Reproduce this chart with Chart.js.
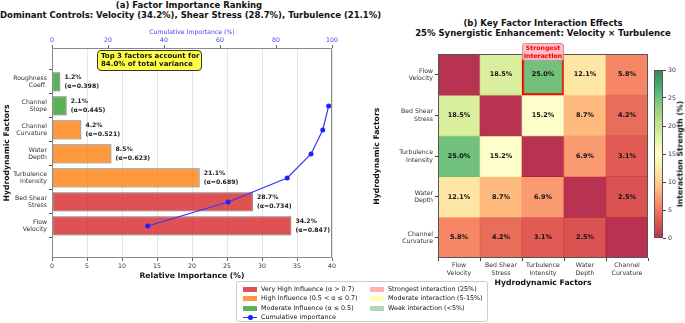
<!DOCTYPE html>
<html lang="en">

<head>
    <meta charset="UTF-8">
    <script src="https://cdn.jsdelivr.net/npm/chart.js@4.4.0/dist/chart.umd.min.js"></script>
    <title>Factor Importance and Interactions</title>
    <style>
        body { margin: 0; background: #fff; }
        #wrap { position: relative; width: 685px; height: 323px; overflow: hidden; font-family: 'DejaVu Sans', sans-serif; color: #111; }
        #wrap canvas, .txt { position: absolute; }
        .title { font-weight: bold; font-size: 8.5px; line-height: 10px; text-align: center; white-space: nowrap; }
        #note { left: 97px; top: 50px; width: 97px; padding: 1px 3px; background: rgba(255, 255, 0, 0.72); border: 1px solid #333;
            border-radius: 4px; font-weight: bold; font-size: 7px; line-height: 8.4px; white-space: nowrap; }
        #strong { left: 522px; top: 43px; width: 40px; height: 16px; background: rgba(255, 182, 193, 0.9); border: 1px solid #b99;
            border-radius: 3px; color: #f00; font-weight: bold; font-size: 6.2px; line-height: 7.6px; text-align: center; }
        #cbLabel { left: 680px; top: 154px; transform: translate(-50%, -50%) rotate(-90deg); font-weight: bold; font-size: 7.7px; white-space: nowrap; }
        #legend { left: 236px; top: 281px; width: 250px; height: 39px; border: 1px solid #ccc; border-radius: 3px; background: rgba(255,255,255,0.85); }
        .lg { position: absolute; font-size: 6.4px; line-height: 9px; white-space: nowrap; }
        .sw { position: absolute; width: 14px; height: 5px; }
    </style>
</head>

<body>
    <div id="wrap">
        <div class="txt title" style="left:0;top:0;width:378px">(a) Factor Importance Ranking<br><span id="subA"></span></div>
        <div class="txt title" style="left:393px;top:18px;width:300px">(b) Key Factor Interaction Effects<br>25% Synergistic Enhancement: Velocity × Turbulence</div>
        <canvas id="importance" width="345" height="261" style="left:0;top:24px"></canvas>
        <canvas id="heat" width="280" height="247" style="left:370px;top:45px"></canvas>
        <canvas id="cbar" width="37" height="190" style="left:648px;top:60px"></canvas>
        <div id="note" class="txt"></div>
        <div id="strong" class="txt">Strongest<br>Interaction</div>
        <div id="cbLabel" class="txt">Interaction Strength (%)</div>
        <div id="legend" class="txt"></div>
    </div>

    <script>
        // panel (a): ranking, strongest first
        const factors = ['Flow Velocity', 'Bed Shear Stress', 'Turbulence Intensity', 'Water Depth',
            'Channel Curvature', 'Channel Slope', 'Roughness Coeff.']
        const importance = [34.2, 28.7, 21.1, 8.5, 4.2, 2.1, 1.2]
        const alphaIdx = [0.847, 0.734, 0.689, 0.623, 0.521, 0.445, 0.398]
        const cumulative = [34.2, 62.9, 84.0, 92.5, 96.7, 98.8]

        // panel (b): pairwise interaction strength (%)
        const pairFactors = ['Flow Velocity', 'Bed Shear Stress', 'Turbulence Intensity', 'Water Depth', 'Channel Curvature']
        const rowVelocity = [0, 18.5, 25.0, 12.1, 5.8]
        const rowShear = [18.5, 0, 15.2, 8.7, 4.2]
        const rowTurbulence = [25.0, 15.2, 0, 6.9, 3.1]
        const rowDepth = [12.1, 8.7, 6.9, 0, 2.5]
        const rowCurvature = [5.8, 4.2, 3.1, 2.5, 0]
        const interaction = [rowVelocity, rowShear, rowTurbulence, rowDepth, rowCurvature]
        const strongest = { row: 0, col: 2 }
        const colorMax = 30

        const RED = 'rgba(214,39,40,0.8)', ORANGE = 'rgba(255,127,14,0.8)', GREEN = 'rgba(44,160,44,0.8)'
        const BLUE = '#3535ff'
        Chart.defaults.font.family = "'DejaVu Sans', sans-serif"
        Chart.defaults.color = '#333'

        const influenceColor = (a) => a > 0.7 ? RED : (a > 0.5 ? ORANGE : GREEN)

        const twoLines = (s) => {
            const i = s.lastIndexOf(' ')
            return i < 0 ? s : [s.slice(0, i), s.slice(i + 1)]
        }

        // matplotlib RdYlGn
        const rdylgn = ['#a50026', '#d73027', '#f46d43', '#fdae61', '#fee08b', '#ffffbf',
            '#d9ef8b', '#a6d96a', '#66bd63', '#1a9850', '#006837']
        const hex = (h) => [1, 3, 5].map(k => parseInt(h.slice(k, k + 2), 16))
        const cmap = (t, a) => {
            t = Math.max(0, Math.min(1, t)) * (rdylgn.length - 1)
            const i = Math.min(Math.floor(t), rdylgn.length - 2)
            const f = t - i
            const c0 = hex(rdylgn[i]), c1 = hex(rdylgn[i + 1])
            const c = c0.map((v, k) => Math.round(v + (c1[k] - v) * f))
            return `rgba(${c[0]},${c[1]},${c[2]},${a})`
        }

        const framePlugin = {
            id: 'frame',
            afterDraw(chart, args, opts) {
                const { ctx, chartArea: a } = chart
                ctx.save()
                ctx.strokeStyle = opts.color || '#444'
                ctx.lineWidth = 1
                ctx.strokeRect(Math.round(a.left) + 0.5, Math.round(a.top) + 0.5,
                    Math.round(a.right - a.left) - 1, Math.round(a.bottom - a.top) - 1)
                ctx.restore()
            }
        }

        const tickFont = { size: 6.2 }
        const axisTitle = (text) => ({ display: true, text: text, color: '#111', font: { size: 7.7, weight: 'bold' } })

        // ---------- (a) importance bars + cumulative line ----------
        const barLabels = {
            id: 'barLabels',
            afterDatasetsDraw(chart) {
                const ctx = chart.ctx
                const meta = chart.getDatasetMeta(0)
                ctx.save()
                ctx.font = "bold 6.2px 'DejaVu Sans'"
                ctx.fillStyle = '#222'
                ctx.textBaseline = 'middle'
                meta.data.forEach((bar, i) => {
                    ctx.fillText(importance[i].toFixed(1) + '%', bar.x + 4, bar.y - 4.3)
                    ctx.fillText('(α=' + alphaIdx[i].toFixed(3) + ')', bar.x + 4, bar.y + 4.3)
                })
                ctx.restore()
            }
        }

        new Chart(document.getElementById('importance'), {
            type: 'bar',
            data: {
                datasets: [{
                    type: 'bar',
                    data: importance.map((v, i) => ({ x: v, y: i })),
                    backgroundColor: alphaIdx.map(influenceColor),
                    borderColor: 'rgba(0,0,0,0.55)',
                    borderWidth: 1,
                    borderSkipped: false,
                    barPercentage: 0.8,
                    categoryPercentage: 1,
                    xAxisID: 'x',
                    order: 2
                }, {
                    type: 'line',
                    indexAxis: 'y',
                    data: cumulative.map((v, i) => ({ x: v, y: i })),
                    xAxisID: 'x2',
                    borderColor: BLUE,
                    borderWidth: 1.2,
                    pointRadius: 2.5,
                    pointBackgroundColor: '#1f1fff',
                    pointBorderWidth: 0,
                    order: 1
                }]
            },
            options: {
                indexAxis: 'y',
                responsive: false,
                animation: false,
                layout: { padding: { right: 13 } },
                plugins: { legend: { display: false }, tooltip: { enabled: false }, frame: { color: '#8a8a8a' } },
                scales: {
                    x: {
                        type: 'linear', position: 'bottom', min: 0, max: 40,
                        ticks: { stepSize: 5, font: tickFont, padding: 2 },
                        grid: { color: 'rgba(0,0,0,0.1)', tickColor: '#666', tickLength: 3 },
                        border: { display: false },
                        title: { ...axisTitle('Relative Importance (%)'), padding: { top: 0, bottom: 4 } },
                        afterFit: (s) => { s.height = 27 }
                    },
                    x2: {
                        type: 'linear', position: 'top', min: 0, max: 100,
                        ticks: { stepSize: 20, font: tickFont, padding: 1, color: '#4040ff' },
                        grid: { drawOnChartArea: false, tickColor: '#666', tickLength: 3 },
                        border: { display: false },
                        title: { display: true, text: 'Cumulative Importance (%)', color: '#4040ff', font: { size: 6.2 }, padding: { top: 5, bottom: 0 } },
                        afterFit: (s) => { s.height = 24 }
                    },
                    y: {
                        type: 'linear', min: -0.71, max: 6.79,
                        afterBuildTicks: (s) => { s.ticks = factors.map((f, i) => ({ value: i })) },
                        ticks: { autoSkip: false, font: { size: 6.2, lineHeight: 1.25 }, padding: 2, callback: (v) => twoLines(factors[v]) },
                        grid: { drawOnChartArea: false, tickColor: '#666', tickLength: 3 },
                        border: { display: false },
                        title: { ...axisTitle('Hydrodynamic Factors'), padding: { top: 2, bottom: 0 } },
                        afterFit: (s) => { s.width = 52 }
                    }
                }
            },
            plugins: [barLabels, framePlugin]
        })

        // ---------- (b) interaction heatmap ----------
        const cellLabels = {
            id: 'cellLabels',
            afterDatasetsDraw(chart) {
                const ctx = chart.ctx
                ctx.save()
                ctx.font = "bold 6.5px 'DejaVu Sans'"
                ctx.fillStyle = '#111'
                ctx.textAlign = 'center'
                ctx.textBaseline = 'middle'
                interaction.forEach((row, r) => {
                    const meta = chart.getDatasetMeta(r)
                    row.forEach((v, j) => {
                        if (v <= 0) return
                        const cell = meta.data[j]
                        ctx.fillText(v.toFixed(1) + '%', cell.x, (cell.y + cell.base) / 2)
                    })
                })
                ctx.restore()
            }
        }

        new Chart(document.getElementById('heat'), {
            type: 'bar',
            data: {
                labels: pairFactors.map(twoLines),
                datasets: interaction.map((row, r) => ({
                    data: row.map(() => [r - 0.5, r + 0.5]),
                    backgroundColor: row.map(v => cmap(v / colorMax, 0.8)),
                    borderColor: '#ff0000',
                    borderWidth: row.map((v, j) => (r === strongest.row && j === strongest.col) ? 2 : 0),
                    borderSkipped: false,
                    barPercentage: 1,
                    categoryPercentage: 1,
                    grouped: false
                }))
            },
            options: {
                responsive: false,
                animation: false,
                layout: { padding: { top: 4, right: 2 } },
                plugins: { legend: { display: false }, tooltip: { enabled: false }, frame: { color: '#555' } },
                scales: {
                    x: {
                        ticks: { font: { size: 6.2, lineHeight: 1.2 }, padding: 1, maxRotation: 0, autoSkip: false },
                        grid: { drawOnChartArea: false, tickColor: '#444', tickLength: 3 },
                        border: { display: false },
                        title: { ...axisTitle('Hydrodynamic Factors'), padding: { top: 0, bottom: 4 } },
                        afterFit: (s) => { s.height = 34 }
                    },
                    y: {
                        type: 'linear', min: -0.5, max: 4.5, reverse: true,
                        afterBuildTicks: (s) => { s.ticks = pairFactors.map((f, i) => ({ value: i })) },
                        ticks: { autoSkip: false, font: { size: 6.2, lineHeight: 1.2 }, padding: 2, callback: (v) => twoLines(pairFactors[v]) },
                        grid: { drawOnChartArea: false, tickColor: '#444', tickLength: 3 },
                        border: { display: false },
                        title: { ...axisTitle('Hydrodynamic Factors'), padding: { top: 2, bottom: 0 } },
                        afterFit: (s) => { s.width = 68 }
                    }
                }
            },
            plugins: [cellLabels, framePlugin]
        })

        // ---------- colorbar ----------
        const cbarFill = (context) => {
            const area = context.chart.chartArea
            if (!area) return cmap(0.5, 0.8)
            const g = context.chart.ctx.createLinearGradient(0, area.bottom, 0, area.top)
            rdylgn.forEach((c, i) => g.addColorStop(i / (rdylgn.length - 1), cmap(i / (rdylgn.length - 1), 0.8)))
            return g
        }

        new Chart(document.getElementById('cbar'), {
            type: 'bar',
            data: { labels: [''], datasets: [{ data: [[0, colorMax]], backgroundColor: cbarFill, borderWidth: 0, barPercentage: 1, categoryPercentage: 1 }] },
            options: {
                responsive: false,
                animation: false,
                layout: { padding: { left: 6, top: 10, bottom: 12 } },
                plugins: { legend: { display: false }, tooltip: { enabled: false }, frame: { color: '#555' } },
                scales: {
                    x: { display: false },
                    y: {
                        position: 'right', min: 0, max: colorMax,
                        ticks: { stepSize: 5, font: tickFont, padding: 2 },
                        grid: { drawOnChartArea: false, tickColor: '#444', tickLength: 3 },
                        border: { display: false },
                        afterFit: (s) => { s.width = 22 }
                    }
                }
            },
            plugins: [framePlugin]
        })

        // ---------- html text ----------
        document.getElementById('subA').textContent =
            `Dominant Controls: Velocity (${importance[0]}%), Shear Stress (${importance[1]}%), Turbulence (${importance[2]}%)`
        const top3 = importance.slice(0, 3).reduce((a, b) => a + b, 0)
        document.getElementById('note').innerHTML = `Top 3 factors account for<br>${top3.toFixed(1)}% of total variance`

        const legendLeft = [
            [RED, 'Very High Influence (α > 0.7)'],
            [ORANGE, 'High Influence (0.5 < α ≤ 0.7)'],
            [GREEN, 'Moderate Influence (α ≤ 0.5)'],
            ['line', 'Cumulative importance']
        ]
        const legendRight = [
            ['rgba(255,0,0,0.3)', 'Strongest interaction (25%)'],
            ['rgba(255,255,0,0.3)', 'Moderate interaction (5-15%)'],
            ['rgba(0,128,0,0.3)', 'Weak interaction (<5%)']
        ]
        const legend = document.getElementById('legend')
        const addItem = (x, row, color, text) => {
            const y = 4.5 + row * 9.5
            if (color === 'line') {
                legend.insertAdjacentHTML('beforeend',
                    `<div class="sw" style="left:${x}px;top:${y}px;height:1.3px;margin-top:2px;background:${BLUE}"></div>` +
                    `<div class="sw" style="left:${x + 5}px;top:${y + 0.3}px;width:4.5px;height:4.5px;border-radius:50%;background:#1f1fff"></div>`)
            } else {
                legend.insertAdjacentHTML('beforeend', `<div class="sw" style="left:${x}px;top:${y}px;background:${color}"></div>`)
            }
            legend.insertAdjacentHTML('beforeend', `<div class="lg" style="left:${x + 18}px;top:${y - 2}px">${text}</div>`)
        }
        legendLeft.forEach((d, i) => addItem(6, i, d[0], d[1]))
        legendRight.forEach((d, i) => addItem(133, i, d[0], d[1]))
    </script>
</body>

</html>
